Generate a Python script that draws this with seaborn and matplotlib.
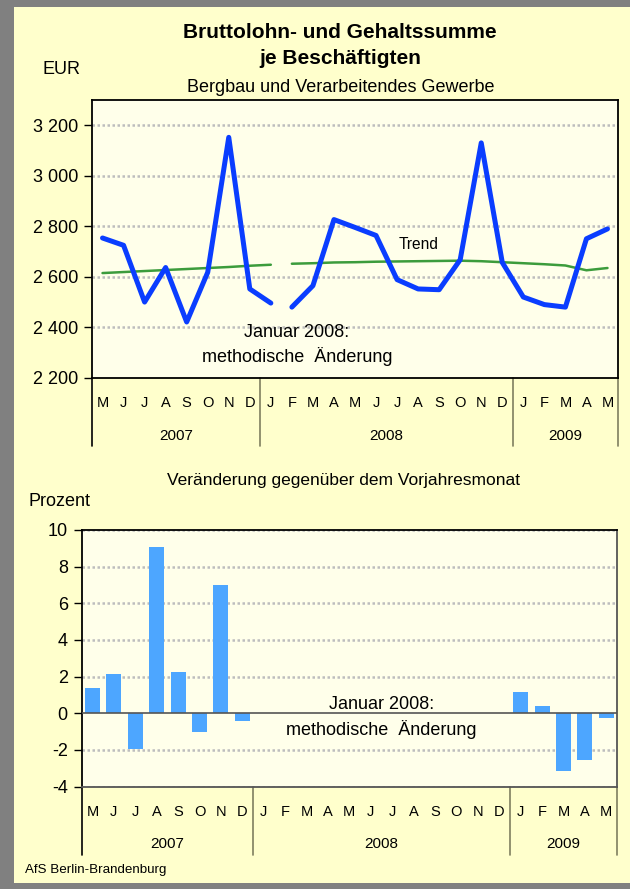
# ==========================================
# BRUTTOLOHN- UND GEHALTSSUMME JE BESCHAEFTIGTEN
# ==========================================

import numpy as np
import pandas as pd
import matplotlib
matplotlib.use("Agg")
import matplotlib.pyplot as plt
from matplotlib.patches import Rectangle
import seaborn as sns

# ==========================================
# DATA
# ==========================================

month_letters = ["M", "J", "J", "A", "S", "O", "N", "D",
                 "J", "F", "M", "A", "M", "J", "J", "A", "S", "O", "N", "D",
                 "J", "F", "M", "A", "M"]
years = ["2007", "2008", "2009"]
year_months = [8, 12, 5]

# EUR, Mai 2007 - Jan 2008
wage_old = [2753, 2724, 2499, 2636, 2420, 2617, 3152, 2551, 2495]
trend_old = [2614, 2618, 2622, 2626, 2630, 2634, 2638, 2643, 2647]

# EUR, Feb 2008 - Mai 2009
wage_new = [2479, 2564, 2826, 2795, 2763, 2588, 2551, 2548,
            2667, 3130, 2656, 2519, 2489, 2479, 2750, 2789]
trend_new = [2651, 2653, 2656, 2657, 2659, 2660, 2661, 2662,
             2663, 2661, 2657, 2653, 2649, 2644, 2625, 2634]

# Prozent gegenueber Vorjahresmonat
change_2007 = [1.38, 2.14, -1.95, 9.09, 2.25, -1.05, 7.0, -0.42]   # Mai - Dez 2007
change_2009 = [1.16, 0.40, -3.18, -2.58, -0.24]                    # Jan - Mai 2009

# ==========================================
# STYLE
# ==========================================

sns.set_theme(style="white")
plt.rcParams["font.family"] = ["Liberation Sans", "DejaVu Sans"]
plt.rcParams.update({"text.color": "black", "xtick.color": "black",
                     "ytick.color": "black", "axes.labelcolor": "black"})

border_gray = "#808080"
panel_yellow = "#FFFFCC"
plot_cream = "#FFFFEA"
line_blue = "#0A3DFF"
trend_green = "#3C9C3C"
bar_blue = "#4DA6FF"
grid_gray = "#bdbdbd"
sep_olive = "#7f7f5f"

W, H = 630, 889

def fx(px):
    return px / W

def fy(py):
    return 1 - py / H

fig = plt.figure(figsize=(6.3, 8.89), dpi=100)
fig.patch.set_facecolor(border_gray)
fig.add_artist(Rectangle((fx(14), fy(883)), fx(616), 876 / H,
                         transform=fig.transFigure, facecolor=panel_yellow,
                         edgecolor="none", zorder=-10))

n = len(month_letters)
pos = list(range(n))

# ==========================================
# TOP CHART - LINE
# ==========================================

ax1 = fig.add_axes([fx(92), fy(377.5), fx(618 - 92), 277.5 / H])
ax1.set_facecolor(plot_cream)

df_old = pd.DataFrame({"pos": pos[:len(wage_old)], "lohn": wage_old, "trend": trend_old})
df_new = pd.DataFrame({"pos": pos[len(wage_old):], "lohn": wage_new, "trend": trend_new})

for d in [df_old, df_new]:
    sns.lineplot(data=d, x="pos", y="trend", color=trend_green, lw=1.8, ax=ax1, zorder=3)
    sns.lineplot(data=d, x="pos", y="lohn", color=line_blue, lw=3.6, ax=ax1, zorder=4)

ax1.set_xlim(-0.5, n - 0.5)
ax1.set_ylim(2200, 3300)
yt1 = list(range(2200, 3201, 200))
ax1.set_yticks(yt1)
ax1.set_yticklabels([f"{v:,}".replace(",", " ") for v in yt1])
for v in yt1[1:]:
    ax1.axhline(v, color=grid_gray, lw=1.8, ls=(0, (1, 1)), zorder=1)

ax1.text(15.0, 2729, "Trend", ha="center", va="center", fontsize=11.2)
ax1.text(9.24, 2377, "Januar 2008:", ha="center", va="center", fontsize=13)
ax1.text(9.26, 2283, "methodische  Änderung", ha="center", va="center", fontsize=13)

# ==========================================
# BOTTOM CHART - BARS
# ==========================================

ax2 = fig.add_axes([fx(81.7), fy(786.5), fx(617 - 81.7), 256.5 / H])
ax2.set_facecolor(plot_cream)

keys = [str(i) for i in pos]
bar_keys = keys[:len(change_2007)] + keys[n - len(change_2009):]
df_bar = pd.DataFrame({"key": bar_keys, "change": change_2007 + change_2009})

sns.barplot(data=df_bar, x="key", y="change", order=keys, color=bar_blue,
            saturation=1, width=0.7, linewidth=0, ax=ax2, zorder=3)

ax2.set_xlim(-0.5, n - 0.5)
ax2.set_ylim(-4, 10)
yt2 = list(range(-4, 11, 2))
ax2.set_yticks(yt2)
ax2.set_yticklabels([str(v) for v in yt2])
for v in yt2:
    if v != 0:
        ax2.axhline(v, color=grid_gray, lw=1.8, ls=(0, (1, 1)), zorder=1)
ax2.axhline(0, color="#555555", lw=1.2, zorder=4)

ax2.text(13.51, 0.45, "Januar 2008:", ha="center", va="center", fontsize=13)
ax2.text(13.51, -0.91, "methodische  Änderung", ha="center", va="center", fontsize=13)

# ==========================================
# AXES FORMAT (MONTHS, YEARS, SEPARATORS)
# ==========================================

def format_axes(ax, ax_h, letter_off, year_off, sep_off):
    ax.set_xlabel("")
    ax.set_ylabel("")
    ax.set_xticks([])
    ax.tick_params(axis="y", direction="out", length=6, width=1, color="black",
                   labelsize=13, labelcolor="black", pad=4, left=True)
    trans = ax.get_xaxis_transform()
    for i, m in enumerate(month_letters):
        ax.text(i, -letter_off / ax_h, m, transform=trans, ha="center",
                va="center", fontsize=10.5)
    start = 0
    bounds = [-0.5]
    for y, k in zip(years, year_months):
        ax.text(start + (k - 1) / 2, -year_off / ax_h, y, transform=trans,
                ha="center", va="center", fontsize=11)
        start += k
        bounds.append(start - 0.5)
    for j, b in enumerate(bounds):
        ax.plot([b, b], [0, -sep_off / ax_h], transform=trans, clip_on=False,
                color="black" if j == 0 else sep_olive, lw=1.2)

format_axes(ax1, 277.5, 25, 58.5, 68.5)
format_axes(ax2, 256.5, 25, 57.5, 68.5)

for sp in ax1.spines.values():
    sp.set_color("black")
    sp.set_linewidth(1.3)
for name, sp in ax2.spines.items():
    sp.set_color("black" if name in ["left", "top"] else "#555555")
    sp.set_linewidth(1.3)

# ==========================================
# TITLES AND LABELS
# ==========================================

fig.text(fx(340), fy(32), "Bruttolohn- und Gehaltssumme", ha="center", va="center",
         fontsize=15, fontweight="bold")
fig.text(fx(340), fy(59), "je Beschäftigten", ha="center", va="center",
         fontsize=15, fontweight="bold")
fig.text(fx(341), fy(87), "Bergbau und Verarbeitendes Gewerbe", ha="center",
         va="center", fontsize=13)
fig.text(fx(61), fy(70), "EUR", ha="center", va="center", fontsize=13)

fig.text(fx(344), fy(481), "Veränderung gegenüber dem Vorjahresmonat", ha="center",
         va="center", fontsize=12.5)
fig.text(fx(60), fy(502), "Prozent", ha="center", va="center", fontsize=13)

fig.text(fx(25), fy(870), "AfS Berlin-Brandenburg", ha="left", va="center", fontsize=9.6)

fig.savefig("out.png", dpi=100, facecolor=fig.get_facecolor())
plt.close(fig)
